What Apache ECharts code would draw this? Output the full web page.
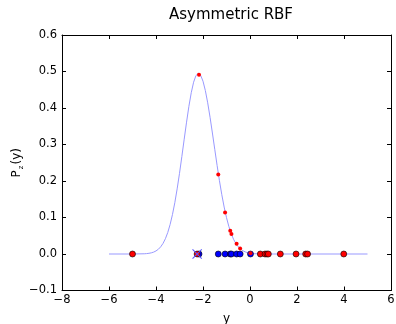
<!DOCTYPE html>
<html>
<head>
<meta charset="utf-8">
<script src="https://cdn.jsdelivr.net/npm/echarts@6/dist/echarts.min.js"></script>
<style>html,body{margin:0;padding:0;background:#fff}#c{width:396px;height:324px}</style>
</head>
<body>
<div id="c"></div>
<script>
// Curve
var curveX = [-6.0,-5.0,-4.5,-4.4,-4.3,-4.2,-4.1,-4.0,-3.9,-3.8,-3.7,-3.6,-3.5,-3.4,-3.3,-3.2,-3.1,-3.0,-2.9,-2.8,-2.7,-2.6,-2.5,-2.4,-2.3,-2.2,-2.1,-2.0,-1.9,-1.8,-1.7,-1.6,-1.5,-1.4,-1.3,-1.2,-1.1,-1.0,-0.9,-0.8,-0.7,-0.6,-0.5,-0.4,-0.3,-0.2,-0.1,0.0,0.2,0.4,0.6,1.0,5.0];
var curveY = [0.0,0.0,0.0006,0.0011,0.0019,0.0032,0.0052,0.0084,0.013,0.0197,0.0291,0.0419,0.0589,0.0807,0.1078,0.1404,0.1784,0.221,0.267,0.3145,0.3612,0.4047,0.4419,0.4707,0.4888,0.495,0.4895,0.4734,0.4478,0.4142,0.3747,0.3315,0.2868,0.2427,0.2008,0.1625,0.1286,0.0996,0.0754,0.0558,0.0404,0.0286,0.0198,0.0134,0.0089,0.0057,0.0036,0.0023,0.0008,0.0003,0.0001,0.0,0.0];
// Points evaluated on the curve (red) and their positions on the axis (blue)
var sampleX = [-2.17,-1.35,-1.06,-0.84,-0.79,-0.57,-0.42,0.02];
var sampleY = [0.491,0.218,0.114,0.064,0.055,0.028,0.015,0.002];
// Red points lying on y = 0
var redAxisX = [-5.0,-2.25,0.44,0.64,0.72,0.78,1.29,1.96,2.37,2.45,3.99];
// Centre marker
var centerX = [-2.25];
var xTicks = [-8,-6,-4,-2,0,2,4,6];
var yTicks = [-0.1,0.0,0.1,0.2,0.3,0.4,0.5,0.6];

function fmtX(v){ v = Math.round(v); return v < 0 ? '\u2212' + Math.abs(v) : String(v); }
function fmtY(v){ var s = Math.abs(v).toFixed(1); return v < -1e-9 ? '\u2212' + s : s; }

var chart = echarts.init(document.getElementById('c'), null, {renderer:'canvas'});
var font = 'DejaVu Sans';
var axisCommon = {
  axisLine:{show:true,onZero:false,lineStyle:{color:'#000',width:1}},
  axisTick:{show:true,inside:true,length:4,lineStyle:{color:'#000',width:1}},
  splitLine:{show:false}
};
chart.setOption({
  animation:false,
  backgroundColor:'#fff',
  title:{text:'Asymmetric RBF',left:226,top:3,textAlign:'center',
    textStyle:{fontFamily:font,fontSize:15,fontWeight:'normal',color:'#000'}},
  grid:{left:62,right:5,top:35,bottom:33.5,containLabel:false,outerBoundsMode:'none'},
  xAxis:[
    Object.assign({type:'value',min:xTicks[0],max:xTicks[xTicks.length-1],interval:2,position:'bottom',
      name:'y',nameLocation:'middle',nameGap:22,nameMoveOverlap:false,
      nameTextStyle:{fontFamily:font,fontSize:12,color:'#000'},
      axisLabel:{formatter:fmtX,fontFamily:font,fontSize:11.5,color:'#000',margin:4}}, axisCommon),
    Object.assign({type:'value',min:xTicks[0],max:xTicks[xTicks.length-1],interval:2,position:'top',
      axisLabel:{show:false}}, axisCommon)
  ],
  yAxis:[
    Object.assign({type:'value',min:yTicks[0],max:yTicks[yTicks.length-1],interval:0.1,position:'left',
      name:'{a|P}{b|z}{a|(y)}',nameLocation:'middle',nameGap:37,nameRotate:90,nameMoveOverlap:false,
      nameTextStyle:{fontFamily:font,fontSize:12,color:'#000',
        rich:{a:{fontFamily:font,fontSize:12,color:'#000',lineHeight:16,verticalAlign:'middle'},
              b:{fontFamily:font,fontSize:7,color:'#000',lineHeight:16,verticalAlign:'bottom',padding:[0,1,0,1]}}},
      axisLabel:{formatter:fmtY,fontFamily:font,fontSize:11.5,color:'#000',margin:5}}, axisCommon),
    Object.assign({type:'value',min:yTicks[0],max:yTicks[yTicks.length-1],interval:0.1,position:'right',
      axisLabel:{show:false}}, axisCommon)
  ],
  series:[
    {type:'line',data:curveX.map(function(x,i){return [x,curveY[i]];}),showSymbol:false,smooth:false,
      lineStyle:{color:'#9999ff',width:1},z:1},
    {type:'scatter',data:sampleX.map(function(x){return [x,0];}),symbol:'circle',symbolSize:6,
      itemStyle:{color:'#0000ff',borderColor:'#000',borderWidth:0.6,opacity:1},z:2},
    {type:'scatter',data:redAxisX.map(function(x){return [x,0];}),symbol:'circle',symbolSize:6,
      itemStyle:{color:'#ff0000',borderColor:'#000',borderWidth:0.6,opacity:1},z:3},
    {type:'scatter',data:sampleX.map(function(x,i){return [x,sampleY[i]];}),symbol:'circle',symbolSize:4,
      itemStyle:{color:'#ff0000',opacity:1},z:4},
    {type:'scatter',data:centerX.map(function(x){return [x,0];}),symbol:'rect',symbolSize:[1,13],symbolRotate:45,
      itemStyle:{color:'#5555ff',opacity:1},z:5},
    {type:'scatter',data:centerX.map(function(x){return [x,0];}),symbol:'rect',symbolSize:[1,13],symbolRotate:-45,
      itemStyle:{color:'#5555ff',opacity:1},z:5}
  ]
});
</script>
</body>
</html>
